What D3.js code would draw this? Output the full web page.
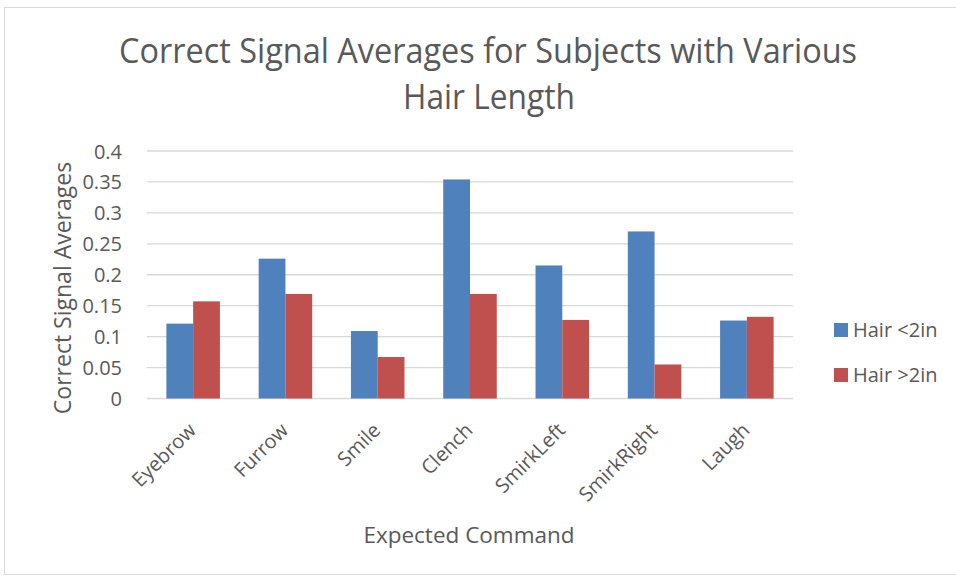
<!DOCTYPE html>
<html><head><meta charset="utf-8">
<script src="https://cdn.jsdelivr.net/npm/d3@7"></script>
<style>html,body{margin:0;padding:0;background:#fff;}svg{display:block;font-family:"Open Sans",sans-serif;}</style>
</head><body>
<script>
const categories = ["Eyebrow","Furrow","Smile","Clench","SmirkLeft","SmirkRight","Laugh"];
const seriesNames = ["Hair <2in","Hair >2in"];
const hairShort = [0.121,0.226,0.109,0.354,0.215,0.270,0.126];
const hairLong  = [0.157,0.169,0.067,0.169,0.127,0.055,0.132];
const yTicks = [0,0.05,0.1,0.15,0.2,0.25,0.3,0.35,0.4];
const colors = ["#4F81BD","#C0504D"];

const W=956,H=579;
const svg=d3.select("body").append("svg").attr("width",W).attr("height",H);
svg.append("rect").attr("x",4.5).attr("y",7.5).attr("width",W-4).attr("height",H-12)
  .attr("fill","#fff").attr("stroke","#D9D9D9");

const m={left:147,right:793,top:151,bottom:398.5};
const x=d3.scaleBand().domain(categories).range([m.left,m.right]).paddingInner(0.42).paddingOuter(0.21);
const xs=d3.scaleBand().domain(seriesNames).range([0,x.bandwidth()]);
const y=d3.scaleLinear().domain([0,0.4]).range([m.bottom,m.top]);

// gridlines
svg.append("g").selectAll("line").data(yTicks).join("line")
  .attr("x1",m.left).attr("x2",m.right)
  .attr("y1",d=>y(d)).attr("y2",d=>y(d))
  .attr("stroke","#D9D9D9").attr("stroke-width",1.3);

// y axis
const yAxis=d3.axisLeft(y).tickValues(yTicks).tickFormat(d=>d3.format("~g")(d)).tickSize(0).tickPadding(25);
const ya=svg.append("g").attr("transform",`translate(${m.left},0)`).call(yAxis);
ya.select(".domain").remove();
ya.selectAll("text").attr("fill","#595959").style("font-size","20px").style("font-family","'Open Sans',sans-serif").attr("dy","0.35em");

// bars
const series=[hairShort,hairLong];
series.forEach((vals,si)=>{
  svg.append("g").selectAll("rect").data(categories).join("rect")
    .attr("x",c=>x(c)+xs(seriesNames[si]))
    .attr("width",xs.bandwidth())
    .attr("y",(c,i)=>y(vals[i]))
    .attr("height",(c,i)=>y(0)-y(vals[i]))
    .attr("fill",colors[si]);
});

// x axis
const xAxis=d3.axisBottom(x).tickSize(0).tickPadding(0);
const xa=svg.append("g").attr("transform",`translate(0,${m.bottom})`).call(xAxis);
xa.select(".domain").remove();
xa.selectAll("text").attr("fill","#595959").style("font-size","20px").style("font-family","'Open Sans',sans-serif")
  .attr("text-anchor","end").attr("dy",null).attr("y",0)
  .attr("transform","translate(4,33) rotate(-45)");

// titles
const title=svg.append("text").attr("text-anchor","middle").attr("fill","#595959").style("font-size","34px");
title.append("tspan").attr("x",488).attr("y",63).attr("textLength",738).attr("lengthAdjust","spacingAndGlyphs")
  .text("Correct Signal Averages for Subjects with Various");
title.append("tspan").attr("x",489).attr("y",109).attr("textLength",172).attr("lengthAdjust","spacingAndGlyphs")
  .text("Hair Length");

svg.append("text").attr("text-anchor","middle").attr("fill","#595959").style("font-size","22.5px")
  .attr("x",469).attr("y",543).text("Expected Command");
svg.append("text").attr("text-anchor","middle").attr("fill","#595959").style("font-size","23px")
  .attr("transform","translate(71,288) rotate(-90)").text("Correct Signal Averages");

// legend
const lg=svg.append("g");
seriesNames.forEach((s,i)=>{
  const yy=323+i*45;
  lg.append("rect").attr("x",834).attr("y",yy).attr("width",14).attr("height",14).attr("fill",colors[i]);
  lg.append("text").attr("x",853).attr("y",yy+14).attr("fill","#595959").style("font-size","20px").text(s);
});
</script>
</body></html>
